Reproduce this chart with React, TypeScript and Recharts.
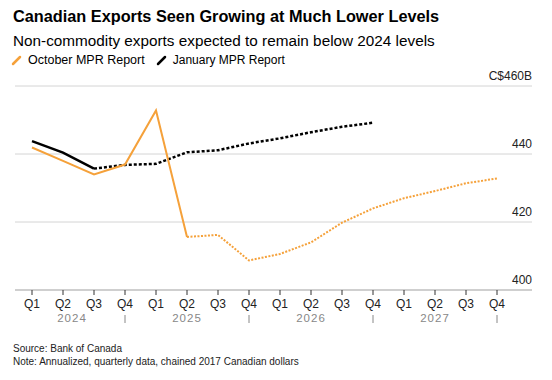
import React from "react";
import { LineChart, Line, XAxis, YAxis, CartesianGrid } from "recharts";

const years = ["2024", "2025", "2026", "2027"];
const quarterLabels = ["Q1", "Q2", "Q3", "Q4"];

// C$ billions
const octoberValues = [441.9, 438.0, 434.0, 436.9, 452.8, 415.6, 416.2, 408.7, 410.6, 414.0, 419.8, 424.0, 427.0, 429.1, 431.4, 432.8];
const januaryValues = [443.8, 440.4, 435.7, 436.8, 437.1, 440.5, 441.1, 443.1, 444.6, 446.4, 448.0, 449.2];

// last index drawn solid (history), rest is projection
const octoberLastActual = 5;
const januaryLastActual = 2;

const yTicks = [400, 420, 440, 460];

const ORANGE = "#F5A13A";
const FONT = '"Liberation Sans", Arial, Helvetica, sans-serif';

const rows = years.flatMap((yr, yi) =>
  quarterLabels.map((q, qi) => {
    const i = yi * 4 + qi;
    const jan = i < januaryValues.length ? januaryValues[i] : null;
    return {
      key: `${yr} ${q}`,
      octSolid: i <= octoberLastActual ? octoberValues[i] : null,
      octDot: i >= octoberLastActual ? octoberValues[i] : null,
      janSolid: i <= januaryLastActual ? jan : null,
      janDot: i >= januaryLastActual ? jan : null,
    };
  })
);

function QuarterTick(props: any) {
  const { x, y, payload, index } = props;
  const [yr, q] = String(payload.value).split(" ");
  const qi = quarterLabels.indexOf(q);
  return (
    <g>
      <text x={x} y={y + 11} textAnchor="middle" fontSize={12} fill="#222" fontFamily={FONT}>
        {q}
      </text>
      {qi === 1 && (
        <text
          x={x + (index === 1 ? 9 : 0)}
          y={y + 25}
          textAnchor="middle"
          fontSize={11.5}
          letterSpacing={1}
          fill="#888"
          fontFamily={FONT}
        >
          {yr}
        </text>
      )}
      {qi === 3 && <line x1={x} x2={x} y1={y + 18} y2={y + 26} stroke="#888" strokeWidth={1} />}
    </g>
  );
}

function ValueTick(props: any) {
  const { y, payload } = props;
  const v = payload.value;
  return (
    <text x={532} y={y - 6} textAnchor="end" fontSize={12} fill="#222" fontFamily={FONT}>
      {v === 460 ? "C$460B" : v}
    </text>
  );
}

function Slash({ color }: { color: string }) {
  return (
    <svg width={12} height={12} style={{ marginRight: 5, verticalAlign: "middle" }}>
      <line x1={2} y1={10} x2={9} y2={3} stroke={color} strokeWidth={2.5} strokeLinecap="round" />
    </svg>
  );
}

export default function App() {
  return (
    <div
      style={{
        position: "absolute",
        left: 0,
        top: 0,
        width: 552,
        height: 380,
        background: "#fff",
        fontFamily: FONT,
        color: "#000",
        overflow: "hidden",
      }}
    >
      <div style={{ position: "absolute", left: 13, top: 7, fontSize: 16.3, fontWeight: 700, whiteSpace: "nowrap" }}>
        Canadian Exports Seen Growing at Much Lower Levels
      </div>
      <div style={{ position: "absolute", left: 13, top: 32, fontSize: 15.3, whiteSpace: "nowrap" }}>
        Non-commodity exports expected to remain below 2024 levels
      </div>
      <div style={{ position: "absolute", left: 11, top: 53, fontSize: 12.5, whiteSpace: "nowrap", display: "flex", alignItems: "center" }}>
        <Slash color={ORANGE} />
        <span style={{ marginRight: 11 }}>October MPR Report</span>
        <Slash color="#000" />
        <span style={{ fontSize: 12 }}>January MPR Report</span>
      </div>

      <div style={{ position: "absolute", left: 0, top: 0 }}>
        <LineChart width={552} height={380} data={rows} margin={{ top: 86, right: 19, left: 15, bottom: 50 }}>
          <CartesianGrid vertical={false} stroke="#d4d4d4" strokeWidth={1} />
          <XAxis
            dataKey="key"
            interval={0}
            padding={{ left: 17, right: 35 }}
            axisLine={{ stroke: "#cfcfcf", strokeWidth: 2 }}
            tickLine={{ stroke: "#333", strokeWidth: 1 }}
            tickSize={5}
            tick={<QuarterTick />}
            height={40}
          />
          <YAxis
            orientation="right"
            width={1}
            domain={[400, 460]}
            ticks={yTicks}
            axisLine={false}
            tickLine={false}
            tick={<ValueTick />}
          />
          <Line dataKey="janSolid" stroke="#000" strokeWidth={2.5} dot={false} activeDot={false} isAnimationActive={false} connectNulls={false} />
          <Line dataKey="janDot" stroke="#000" strokeWidth={2.5} strokeDasharray="3 2" dot={false} activeDot={false} isAnimationActive={false} connectNulls={false} />
          <Line dataKey="octSolid" stroke={ORANGE} strokeWidth={2} dot={false} activeDot={false} isAnimationActive={false} connectNulls={false} />
          <Line dataKey="octDot" stroke={ORANGE} strokeWidth={2} strokeDasharray="2 1.5" dot={false} activeDot={false} isAnimationActive={false} connectNulls={false} />
        </LineChart>
      </div>

      <div style={{ position: "absolute", left: 13, top: 343, fontSize: 10, lineHeight: "12.5px", color: "#222", whiteSpace: "nowrap" }}>
        <div>Source: Bank of Canada</div>
        <div>Note: Annualized, quarterly data, chained 2017 Canadian dollars</div>
      </div>
    </div>
  );
}
